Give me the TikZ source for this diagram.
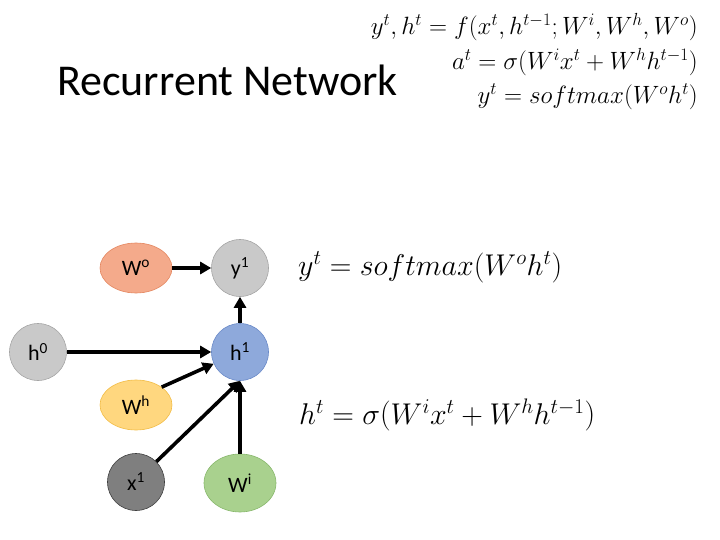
\RequirePackage{fix-cm}
\documentclass[tikz,border=0pt]{standalone}
\usepackage{fontspec}
\setmainfont{Carlito}
\usetikzlibrary{arrows.meta}
\tikzset{
  unit/.style={circle, draw, line width=0.6pt, minimum size=57pt, inner sep=0pt, font=\fontsize{22}{26}\selectfont},
  weight/.style={ellipse, draw, line width=0.6pt, minimum width=72pt, minimum height=50pt, inner sep=0pt, font=\fontsize{22}{26}\selectfont},
  link/.style={line width=3.6pt, -{Triangle[length=11pt,width=12pt]}},
  formula/.style={anchor=east, inner sep=0pt, font=\fontsize{25}{29}\selectfont},
}
\usetikzlibrary{shapes.geometric}
\definecolor{grayfill}{HTML}{C9C9C9}
\definecolor{grayline}{HTML}{A5A5A5}
\definecolor{bluefill}{HTML}{8EA9DB}
\definecolor{blueline}{HTML}{6A8AC8}
\definecolor{orangefill}{HTML}{F4AA8B}
\definecolor{orangeline}{HTML}{E4865F}
\definecolor{yellowfill}{HTML}{FFD77F}
\definecolor{yellowline}{HTML}{F2BC45}
\definecolor{darkfill}{HTML}{7F7F7F}
\definecolor{darkline}{HTML}{3F3F3F}
\definecolor{greenfill}{HTML}{A9D18E}
\definecolor{greenline}{HTML}{88B86C}
\begin{document}
\begin{tikzpicture}[x=1pt,y=-1pt]
    \useasboundingbox (0,0) rectangle (720,540);
    % title and model
    \node[anchor=west, inner sep=0pt, font=\fontsize{44}{50}\selectfont] (title) at (57,80) {Recurrent Network};
    \node[formula] (fdef) at (698,27) {$y^t,h^t=f\Bigl(x^t,h^{t-1};W^i,W^h,W^o\Bigr)$};
    \node[formula] (fa) at (698,62) {$a^t=\sigma\Bigl(W^ix^t+W^hh^{t-1}\Bigr)$};
    \node[formula] (fy) at (698,97) {$y^t=softmax(W^oh^t)$};
    % units and weights
    \node[weight, fill=orangefill, draw=orangeline] (wo) at (136,268) {W\textsuperscript{o}};
    \node[unit, fill=grayfill, draw=grayline] (y1) at (240,268) {y\textsuperscript{1}};
    \node[unit, fill=grayfill, draw=grayline] (h0) at (38,352) {h\textsuperscript{0}};
    \node[unit, fill=bluefill, draw=blueline] (h1) at (240,352) {h\textsuperscript{1}};
    \node[weight, fill=yellowfill, draw=yellowline] (wh) at (136,405) {W\textsuperscript{h}};
    \node[unit, fill=darkfill, draw=darkline] (x1) at (136,482) {x\textsuperscript{1}};
    \node[weight, fill=greenfill, draw=greenline, minimum height=58pt] (wi) at (240,483) {W\textsuperscript{i}};
    % connections
    \draw[link] (wo) -- (y1);
    \draw[link] (h1) -- (y1);
    \draw[link] (h0) -- (h1);
    \draw[link] (wh.north east) -- (h1);
    \draw[link] (x1.north east) -- (h1.south);
    \draw[link] (wi) -- (h1);
    % equations beside the network
    \node[anchor=west, inner sep=0pt, font=\fontsize{30}{34}\selectfont] (ey) at (298,267) {$y^t=softmax(W^oh^t)$};
    \node[anchor=west, inner sep=0pt, font=\fontsize{30}{34}\selectfont] (eh) at (299,415) {$h^t=\sigma\Bigl(W^ix^t+W^hh^{t-1}\Bigr)$};
\end{tikzpicture}
\end{document}
